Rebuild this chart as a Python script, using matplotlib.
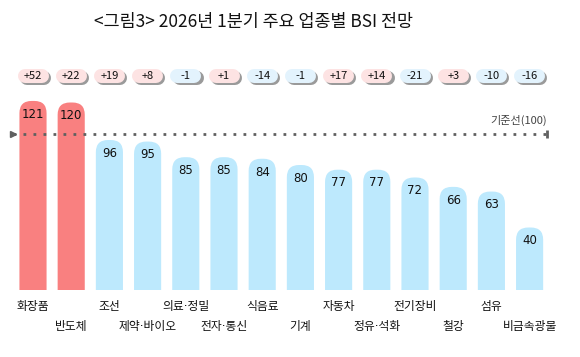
import matplotlib.pyplot as plt
from matplotlib.patches import FancyBboxPatch, Rectangle

plt.rcParams['font.family'] = ['Noto Sans CJK KR', 'DejaVu Sans']

# 업종별 BSI 전망, 전년동기 대비 증감
industries = ['화장품', '반도체', '조선', '제약·바이오', '의료·정밀', '전자·통신', '식음료',
              '기계', '자동차', '정유·석화', '전기장비', '철강', '섬유', '비금속광물']
bsi = [121, 120, 96, 95, 85, 85, 84, 80, 77, 77, 72, 66, 63, 40]
change = [52, 22, 19, 8, -1, 1, -14, -1, 17, 14, -21, 3, -10, -16]
baseline = 100

W, H = 580, 357
fig = plt.figure(figsize=(W / 100, H / 100), dpi=100)
ax = fig.add_axes([0, 0, 1, 1])

# pixel geometry -> data scales
x0, dx = 33, 38.2          # first bar centre, spacing (px)
y0, dy = 290, 1.5625       # baseline pixel row, px per BSI unit
ax.set_xlim(-x0 / dx, (W - x0) / dx)
ax.set_ylim(-(H - y0) / dy, y0 / dy)
ax.axis('off')
aspect = dx / dy

red, blue = '#f98080', '#bde9fd'
bw = 0.71
clip = Rectangle((-1, 0), len(bsi) + 1, 200, transform=ax.transData)
for i, v in enumerate(bsi):
    c = red if v > baseline else blue
    # rounded box, bottom corners pushed under the baseline and clipped away
    box = FancyBboxPatch((i - bw / 2, -20), bw, v + 20,
                         boxstyle='round,pad=0,rounding_size=0.32',
                         mutation_aspect=aspect, fc=c, ec='none', zorder=2)
    ax.add_patch(box)
    box.set_clip_path(clip)
    ax.text(i, v - 8.5, str(v), ha='center', va='center', fontsize=8.5,
            family='DejaVu Sans', color='#111111', zorder=4)
    # staggered category labels
    ly = -10.5 if i % 2 == 0 else -23.5
    ax.text(i, ly, industries[i], ha='center', va='center', fontsize=8.5,
            family=['DejaVu Sans', 'Noto Sans CJK KR'], color='#111111')

# change badges: thick round-capped strokes give pill shapes
by = (y0 - 76) / dy
half = 8.5 / dx
cap = 14 * 72 / 100          # 14 px tall in points
for i, d in enumerate(change):
    fc = '#fde3e3' if d > 0 else '#e3f3fd'
    ax.plot([i - half + 0.06, i + half + 0.06], [by - 1.2, by - 1.2], lw=cap,
            color='#9a9a9a', solid_capstyle='round', zorder=2)
    ax.plot([i - half, i + half], [by, by], lw=cap, color=fc,
            solid_capstyle='round', zorder=3)
    ax.text(i, by, f'{d:+d}', ha='center', va='center', fontsize=8,
            color='#111111', zorder=4)

# 기준선
lx0, lx1 = (13 - x0) / dx, (547 - x0) / dx
ax.plot([lx0, lx1], [baseline, baseline], linestyle=(0, (1, 2.6)), lw=2,
        color='#606060', zorder=3)
ax.plot([lx0], [baseline], marker='>', ms=4, color='#606060', zorder=3)
ax.plot([lx1], [baseline], marker='|', ms=6, mew=2, color='#606060', zorder=3)
ax.text(lx1, baseline + 8.5, '기준선(100)', ha='right', va='center',
        fontsize=8, color='#444444')

fig.text(254 / W, 1 - 22 / H, '<그림3> 2026년 1분기 주요 업종별 BSI 전망', ha='center',
         va='center', fontsize=12.5, color='#111111')

fig.savefig('out.png', dpi=100)
